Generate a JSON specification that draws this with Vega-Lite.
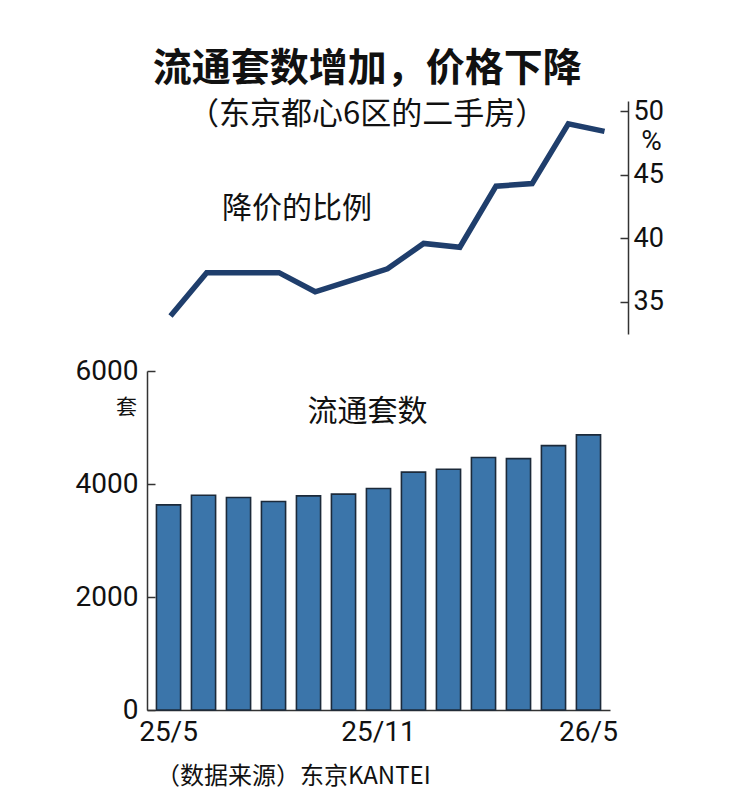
{
  "$schema": "https://vega.github.io/schema/vega-lite/v6.json",
  "background": "white",
  "padding": {"left": 75, "top": 50, "right": 60, "bottom": 10},
  "title": {
    "text": "流通套数增加，价格下降",
    "subtitle": "（东京都心6区的二手房）",
    "anchor": "middle",
    "font": "Noto Sans CJK SC",
    "fontSize": 39,
    "fontWeight": "bold",
    "color": "#111111",
    "subtitleFont": "Noto Sans CJK SC",
    "subtitleFontSize": 31,
    "subtitleColor": "#111111",
    "subtitlePadding": 11,
    "offset": -33,
    "dx": -2
  },
  "data": {
    "values": [
      {"月": "25/5", "降价比例": 33.9, "流通套数": 3630},
      {"月": "25/6", "降价比例": 37.3, "流通套数": 3800},
      {"月": "25/7", "降价比例": 37.3, "流通套数": 3760},
      {"月": "25/8", "降价比例": 37.3, "流通套数": 3690},
      {"月": "25/9", "降价比例": 35.8, "流通套数": 3790},
      {"月": "25/10", "降价比例": 36.7, "流通套数": 3820},
      {"月": "25/11", "降价比例": 37.6, "流通套数": 3920},
      {"月": "25/12", "降价比例": 39.6, "流通套数": 4210},
      {"月": "26/1", "降价比例": 39.3, "流通套数": 4260},
      {"月": "26/2", "降价比例": 44.1, "流通套数": 4470},
      {"月": "26/3", "降价比例": 44.3, "流通套数": 4450},
      {"月": "26/4", "降价比例": 49.0, "流通套数": 4680},
      {"月": "26/5", "降价比例": 48.4, "流通套数": 4870}
    ]
  },
  "spacing": 23,
  "resolve": {"scale": {"x": "independent", "y": "independent"}},
  "vconcat": [
    {
      "width": 481,
      "height": 233,
      "layer": [
        {
          "mark": {"type": "line", "color": "#1f3e6c", "strokeWidth": 5.5, "strokeJoin": "miter"},
          "encoding": {
            "x": {"field": "月", "type": "ordinal", "sort": null, "scale": {"type": "point", "padding": 0.65}, "axis": null},
            "y": {
              "field": "降价比例",
              "type": "quantitative",
              "scale": {"domain": [32.48, 50.79], "nice": false, "zero": false},
              "axis": {
                "orient": "right",
                "values": [35, 40, 45, 50],
                "labelFontSize": 27,
                "labelPadding": 13,
                "title": "%",
                "titleAngle": 0,
                "titleX": 23,
                "titleY": 40,
                "titleAlign": "center",
                "titleBaseline": "middle",
                "titleFontSize": 28,
                "titleFontWeight": "normal",
                "titleFont": "Roboto",
                "titleColor": "#111111"
              }
            }
          }
        },
        {
          "data": {"values": [{"标注": "降价的比例"}]},
          "mark": {"type": "text", "fontSize": 30, "dx": 18, "font": "Noto Sans CJK SC", "color": "#111111"},
          "encoding": {
            "x": {"datum": "25/8"},
            "y": {"datum": 42.3},
            "text": {"field": "标注"}
          }
        }
      ]
    },
    {
      "width": 463,
      "height": 339,
      "title": {
        "text": "（数据来源）东京KANTEI",
        "orient": "bottom",
        "anchor": "start",
        "frame": "group",
        "dx": 9,
        "offset": 19,
        "font": "Noto Sans CJK SC",
        "fontSize": 24,
        "fontWeight": "normal",
        "color": "#111111"
      },
      "layer": [
        {
          "mark": {"type": "bar", "fill": "#3b75aa", "stroke": "#1c2a3a", "strokeWidth": 1.6},
          "encoding": {
            "x": {
              "field": "月",
              "type": "ordinal",
              "sort": null,
              "scale": {"paddingInner": 0.31, "paddingOuter": 0.27},
              "axis": {"values": ["25/5", "25/11", "26/5"], "title": null, "labelAngle": 0, "ticks": false, "labelPadding": 8, "labelFontSize": 28}
            },
            "y": {
              "field": "流通套数",
              "type": "quantitative",
              "scale": {"domain": [0, 6000], "nice": false},
              "axis": {
                "values": [0, 2000, 4000, 6000],
                "format": "d",
                "labelFontSize": 28,
                "labelPadding": 17,
                "title": "套",
                "titleAngle": 0,
                "titleX": -21,
                "titleY": 36,
                "titleAlign": "center",
                "titleBaseline": "middle",
                "titleFontSize": 21,
                "titleFontWeight": "normal",
                "titleFont": "Noto Sans CJK SC",
                "titleColor": "#111111"
              }
            }
          }
        },
        {
          "data": {"values": [{"标注": "流通套数"}]},
          "mark": {"type": "text", "fontSize": 30, "dx": -11, "font": "Noto Sans CJK SC", "color": "#111111"},
          "encoding": {
            "x": {"datum": "25/11"},
            "y": {"datum": 5274},
            "text": {"field": "标注"}
          }
        }
      ]
    }
  ],
  "config": {
    "view": {"stroke": null},
    "font": "Noto Sans CJK SC",
    "axis": {
      "grid": false,
      "domainColor": "#333333",
      "domainWidth": 1.5,
      "tickColor": "#333333",
      "tickWidth": 1.5,
      "tickSize": -8,
      "labelFont": "Roboto",
      "labelColor": "#111111"
    }
  }
}
